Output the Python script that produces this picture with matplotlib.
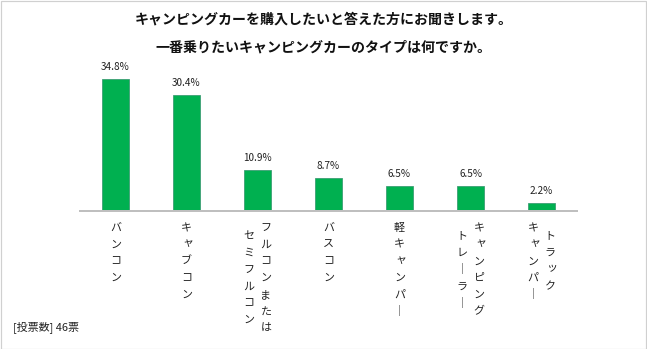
import matplotlib
matplotlib.use("Agg")
import matplotlib.pyplot as plt
from matplotlib.patches import Rectangle

plt.rcParams['font.family'] = ['Noto Sans CJK JP', 'DejaVu Sans']

# data
categories = [
    ["バンコン"],
    ["キャブコン"],
    ["フルコンまたは", "セミフルコン"],
    ["バスコン"],
    ["軽キャンパー"],
    ["キャンピング", "トレーラー"],
    ["トラック", "キャンパー"],
]
values = [34.8, 30.4, 10.9, 8.7, 6.5, 6.5, 2.2]
title_lines = ["キャンピングカーを購入したいと答えた方にお聞きします。",
               "一番乗りたいキャンピングカーのタイプは何ですか。"]
note = "[投票数] 46票"

W, H = 647, 349
DPI = 72  # 1 pt == 1 px
fig = plt.figure(figsize=(W / DPI, H / DPI), dpi=DPI)
fig.patches.append(Rectangle((0.5 / W, 0.5 / H), 1 - 1.5 / W, 1 - 1.5 / H,
                             transform=fig.transFigure, fill=False,
                             edgecolor='#d0d0d0', lw=1.2))

ax = fig.add_axes([80 / W, 138 / H, 497 / W, 152 / H])
x = list(range(len(values)))
ax.bar(x, values, width=0.38, color='#00B050', edgecolor='#3A9B72', lw=0.8)
ax.set_xlim(-0.5, len(values) - 0.5)
ax.set_ylim(0, 40)
for s in ['top', 'right', 'left']:
    ax.spines[s].set_visible(False)
ax.spines['bottom'].set_color('#BFBFBF')
ax.spines['bottom'].set_linewidth(2)
ax.set_xticks([])
ax.set_yticks([])

for i, v in enumerate(values):
    ax.annotate(f"{v:.1f}%", (i, v), xytext=(0, 12), textcoords='offset points',
                ha='center', va='center', fontsize=10, color='#222222')

# vertical (tategaki) category labels, columns read right to left
step = 16.7
small = set("ャュョッァィゥェォ")
for i, cols in enumerate(categories):
    n = max(len(c) for c in cols)
    ncol = len(cols)
    for j, col in enumerate(cols):
        dx = (ncol - 1) / 2 * 17 - j * 17
        top = (n - len(col)) * step / 2
        for k, ch in enumerate(col):
            cx, cy = dx, -(17 + top + k * step)
            if ch in small:
                cx += 1.5
                cy += 1.5
            if ch == "ー":
                ch = "｜"
            ax.annotate(ch, (i, 0), xytext=(cx, cy), textcoords='offset points',
                        ha='center', va='center', fontsize=11, color='#222222')

fig.text(0.5, 1 - 20 / H, title_lines[0], ha='center', va='center',
         fontsize=14, fontweight='bold', color='#111111')
fig.text(0.5, 1 - 48 / H, title_lines[1], ha='center', va='center',
         fontsize=14, fontweight='bold', color='#111111')
fig.text(13 / W, 1 - 327 / H, note, ha='left', va='center',
         fontsize=11, color='#222222')

fig.savefig("out.png", dpi=DPI)
